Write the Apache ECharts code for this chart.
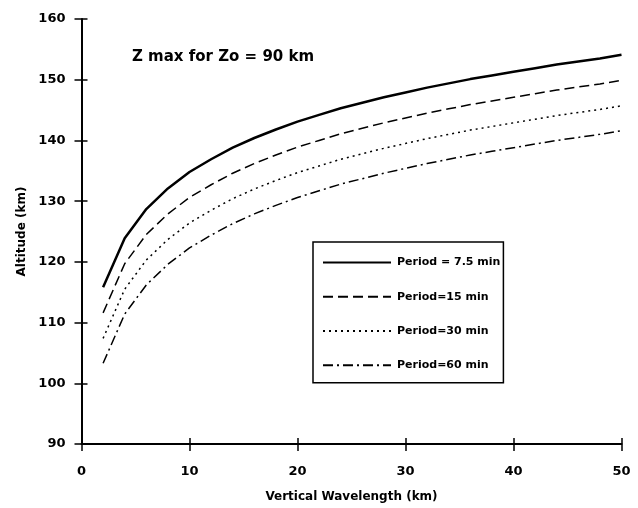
<!DOCTYPE html>
<html>
<head>
<meta charset="utf-8">
<script src="https://cdn.jsdelivr.net/npm/echarts@6/dist/echarts.min.js"></script>
<style>
  html, body { margin: 0; padding: 0; background: #fff; }
  #main { width: 638px; height: 508px; }
</style>
</head>
<body>
<div id="main"></div>
<script>
// vertical wavelength (km)
var wavelength = [2, 4, 6, 8, 10, 12, 14, 16, 18, 20, 22, 24, 26, 28, 30, 32, 34, 36, 38, 40, 42, 44, 46, 48, 50];
// altitude (km) for each period
var period75 = [115.8, 123.9, 128.7, 132.1, 134.8, 136.9, 138.8, 140.4, 141.8, 143.1, 144.2, 145.3, 146.2, 147.1, 147.9, 148.7, 149.4, 150.1, 150.7, 151.3, 151.9, 152.5, 153.0, 153.5, 154.1];
var period15 = [111.6, 119.7, 124.5, 127.9, 130.6, 132.7, 134.6, 136.2, 137.6, 138.9, 140.0, 141.1, 142.0, 142.9, 143.7, 144.5, 145.2, 145.9, 146.5, 147.1, 147.7, 148.3, 148.8, 149.3, 149.9];
var period30 = [107.4, 115.5, 120.3, 123.7, 126.4, 128.5, 130.4, 132.0, 133.4, 134.7, 135.8, 136.9, 137.8, 138.7, 139.5, 140.3, 141.0, 141.7, 142.3, 142.9, 143.5, 144.1, 144.6, 145.1, 145.7];
var period60 = [103.3, 111.4, 116.2, 119.6, 122.3, 124.4, 126.3, 127.9, 129.3, 130.6, 131.7, 132.8, 133.7, 134.6, 135.4, 136.2, 136.9, 137.6, 138.2, 138.8, 139.4, 140.0, 140.5, 141.0, 141.6];
var seriesNames = ['Period = 7.5 min', 'Period=15 min', 'Period=30 min', 'Period=60 min'];

var FONT = 'DejaVu Sans';

function pairs(ys) {
  var out = [];
  for (var i = 0; i < wavelength.length; i++) {
    out.push([wavelength[i], ys[i]]);
  }
  return out;
}

function lineSeries(name, ys, width, dash) {
  return {
    name: name,
    type: 'line',
    xAxisIndex: 0,
    yAxisIndex: 0,
    symbol: 'none',
    smooth: false,
    data: pairs(ys),
    lineStyle: { color: '#000', width: width, type: dash },
    itemStyle: { color: '#000' }
  };
}

var myChart = echarts.init(document.getElementById('main'));
var axisLine = { show: true, lineStyle: { color: '#000', width: 2 } };
var option = {
  backgroundColor: '#fff',
  animation: false,
  title: {
    text: 'Z max for Zo = 90 km',
    left: 127,
    top: 45,
    textStyle: { fontFamily: FONT, fontWeight: 'bold', fontSize: 15, color: '#000' }
  },
  grid: { left: 81.5, right: 16.5, top: 19, bottom: 63.5, containLabel: false },
  legend: {
    orient: 'vertical',
    left: 313,
    top: 242,
    itemWidth: 68,
    itemHeight: 14,
    itemGap: 23,
    padding: [15, 3, 12, 9],
    borderColor: '#000',
    borderWidth: 1.5,
    itemStyle: { color: 'transparent', borderWidth: 0, opacity: 0 },
    data: seriesNames,
    textStyle: { fontFamily: FONT, fontWeight: 'bold', fontSize: 11, color: '#000', padding: [0, 0, 0, 1] }
  },
  xAxis: [
    {
      type: 'value',
      min: 0,
      max: 50,
      interval: 10,
      name: 'Vertical Wavelength (km)',
      nameLocation: 'middle',
      nameGap: 47,
      nameTextStyle: { fontFamily: FONT, fontWeight: 'bold', fontSize: 12, color: '#000' },
      axisLine: axisLine,
      axisTick: { show: true, length: 7, lineStyle: { color: '#000', width: 1.5 } },
      axisLabel: { margin: 21, fontFamily: FONT, fontWeight: 'bold', fontSize: 13, color: '#000' },
      splitLine: { show: false }
    },
    {
      type: 'value',
      position: 'bottom',
      min: 0,
      max: 50,
      interval: 10,
      axisLine: { show: false },
      axisTick: { show: true, inside: true, length: 6, lineStyle: { color: '#000', width: 1.5 } },
      axisLabel: { show: false },
      splitLine: { show: false }
    }
  ],
  yAxis: [
    {
      type: 'value',
      min: 90,
      max: 160,
      interval: 10,
      name: 'Altitude (km)',
      nameLocation: 'middle',
      nameRotate: 90,
      nameGap: 53,
      nameTextStyle: { fontFamily: FONT, fontWeight: 'bold', fontSize: 12, color: '#000' },
      axisLine: axisLine,
      axisTick: { show: true, length: 7, lineStyle: { color: '#000', width: 1.5 } },
      axisLabel: { margin: 16, fontFamily: FONT, fontWeight: 'bold', fontSize: 13, color: '#000' },
      splitLine: { show: false }
    },
    {
      type: 'value',
      position: 'left',
      min: 90,
      max: 160,
      interval: 10,
      axisLine: { show: false },
      axisTick: { show: true, inside: true, length: 6, lineStyle: { color: '#000', width: 1.5 } },
      axisLabel: { show: false },
      splitLine: { show: false }
    }
  ],
  series: [
    lineSeries(seriesNames[0], period75, 2.5, 'solid'),
    lineSeries(seriesNames[1], period15, 1.5, [10, 5]),
    lineSeries(seriesNames[2], period30, 1.5, [2, 4]),
    lineSeries(seriesNames[3], period60, 1.5, [10, 4, 2, 4])
  ]
};
option && myChart.setOption(option);
</script>
</body>
</html>
